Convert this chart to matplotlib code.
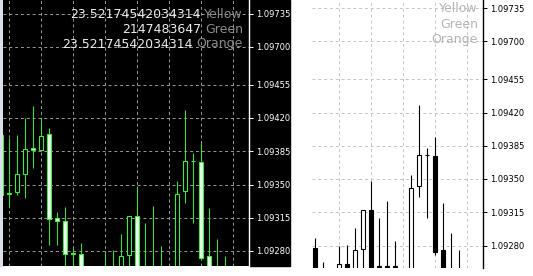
import numpy as np
import matplotlib.pyplot as plt
from matplotlib.patches import Rectangle

# ===================== data =====================
# one bar per slot, left to right (price values)
opens = [1.09339, 1.09340, 1.09342, 1.09361, 1.09388, 1.09386, 1.09403, 1.09315,
         1.09312, 1.09278, 1.09277, 1.09253, 1.09250, 1.09250, 1.09260, 1.09250,
         1.09276, 1.09317, 1.09258, 1.09258, 1.09258, 1.09250, 1.09250, 1.09343,
         1.09375, 1.09374, 1.09275, 1.09250, 1.09250]
highs = [1.09407, 1.09399, 1.09402, 1.09420, 1.09433, 1.09420, 1.09409, 1.09321,
         1.09326, 1.09283, 1.09288, 1.09263, 1.09254, 1.09280, 1.09281, 1.09298,
         1.09317, 1.09348, 1.09309, 1.09327, 1.09285, 1.09254, 1.09354, 1.09428,
         1.09383, 1.09394, 1.09325, 1.09293, 1.09275]
lows = [1.09334, 1.09326, 1.09339, 1.09336, 1.09367, 1.09385, 1.09286, 1.09286,
        1.09245, 1.09245, 1.09240, 1.09240, 1.09240, 1.09240, 1.09240, 1.09240,
        1.09240, 1.09240, 1.09240, 1.09240, 1.09240, 1.09240, 1.09240, 1.09331,
        1.09309, 1.09270, 1.09240, 1.09240, 1.09240]
closes = [1.09402, 1.09341, 1.09361, 1.09387, 1.09386, 1.09401, 1.09314, 1.09312,
          1.09277, 1.09277, 1.09250, 1.09250, 1.09248, 1.09260, 1.09250, 1.09275,
          1.09317, 1.09250, 1.09257, 1.09257, 1.09257, 1.09248, 1.09340, 1.09375,
          1.09375, 1.09273, 1.09250, 1.09248, 1.09248]

tick_values = [1.09280, 1.09315, 1.09350, 1.09385, 1.09420, 1.09455, 1.09495, 1.09530]
tick_labels = ['1.09280', '1.09315', '1.09350', '1.09385', '1.09420', '1.09455', '1.09700', '1.09735']

legend_values = ['23.52174542034314', '2147483647', '23.52174542034314']
legend_names = ['Yellow', 'Green', 'Orange']

# ===================== figure =====================
W, H = 533, 276
fig = plt.figure(figsize=(W / 100, H / 100), dpi=100, facecolor='white')


def px_axes(x0, y0, x1, y1):
    # axes from pixel box (origin top-left)
    return fig.add_axes([x0 / W, 1 - y1 / H, (x1 - x0) / W, (y1 - y0) / H])


k = 0.0014 / 133  # price per pixel
base = 1.09280


def draw_candles(ax, up_face, down_face, edge, wick):
    idx = np.arange(len(opens))
    o = np.array(opens)
    c = np.array(closes)
    ax.vlines(idx, lows, highs, color=wick, linewidth=0.8, zorder=2)
    up = c >= o
    ax.bar(idx[up], (c - o)[up], bottom=o[up], width=0.55,
           facecolor=up_face, edgecolor=edge, linewidth=0.8, zorder=3)
    ax.bar(idx[~up], (o - c)[~up], bottom=c[~up], width=0.55,
           facecolor=down_face, edgecolor=edge, linewidth=0.8, zorder=3)


def style_axes(ax, bg, grid_color, fg, xlim, ylim):
    ax.set_facecolor(bg)
    ax.set_xticks(np.arange(1, 30, 4))
    ax.set_xticklabels([])
    ax.tick_params(axis='x', length=0)
    ax.yaxis.tick_right()
    ax.set_yticks(tick_values)
    ax.set_yticklabels(tick_labels)
    ax.tick_params(axis='y', length=3, width=0.7, pad=2, labelsize=6,
                   colors=fg, labelcolor=fg)
    ax.grid(True, color=grid_color, linestyle=(0, (3, 3)), linewidth=0.7)
    ax.set_axisbelow(True)
    for s in ['top', 'left', 'bottom']:
        ax.spines[s].set_visible(False)
    ax.spines['right'].set_color(fg)
    ax.spines['right'].set_linewidth(1.0)
    # limits last, set_xticks would widen them otherwise
    ax.set_xlim(*xlim)
    ax.set_ylim(*ylim)


# ===================== background blocks =====================
fig.add_artist(Rectangle((0, 1 - 266 / H), 3 / W, 266 / H, transform=fig.transFigure,
                         color='#d9dee8', zorder=-1))
fig.add_artist(Rectangle((249 / W, 1 - 266 / H), 41 / W, 266 / H, transform=fig.transFigure,
                         color='black', zorder=-1))

# ===================== left (dark) chart =====================
ax1 = px_axes(3, 0, 249, 266)
draw_candles(ax1, 'black', '#eaffea', '#45e845', '#3cdc3c')
style_axes(ax1, 'black', '#9a9a9a', 'white', (0.25, 31), (base - 15 * k, base + 251 * k))

# ===================== right (light) chart =====================
ax2 = px_axes(312, 0, 483, 268)
draw_candles(ax2, 'white', 'black', 'black', 'black')
style_axes(ax2, 'white', '#c4c4c4', 'black', (9.625, 31), (base - 22.5 * k, base + 245.5 * k))

# ===================== labels =====================
renderer = fig.canvas.get_renderer()
for row_y, num, name in zip([14, 29.5, 44], legend_values, legend_names):
    t = fig.text(243 / W, 1 - row_y / H, name, ha='right', va='center',
                 color='#8c8c8c', fontsize=9)
    bb = t.get_window_extent(renderer)
    fig.text((bb.x0 - 4) / W, 1 - row_y / H, num, ha='right', va='center',
             color='#ececec', fontsize=9)

for row_y, name in zip([9, 24.5, 40], legend_names):
    fig.text(478 / W, 1 - row_y / H, name, ha='right', va='center',
             color='#b4b4b4', fontsize=9)

fig.savefig('out.png', dpi=100, facecolor=fig.get_facecolor())
